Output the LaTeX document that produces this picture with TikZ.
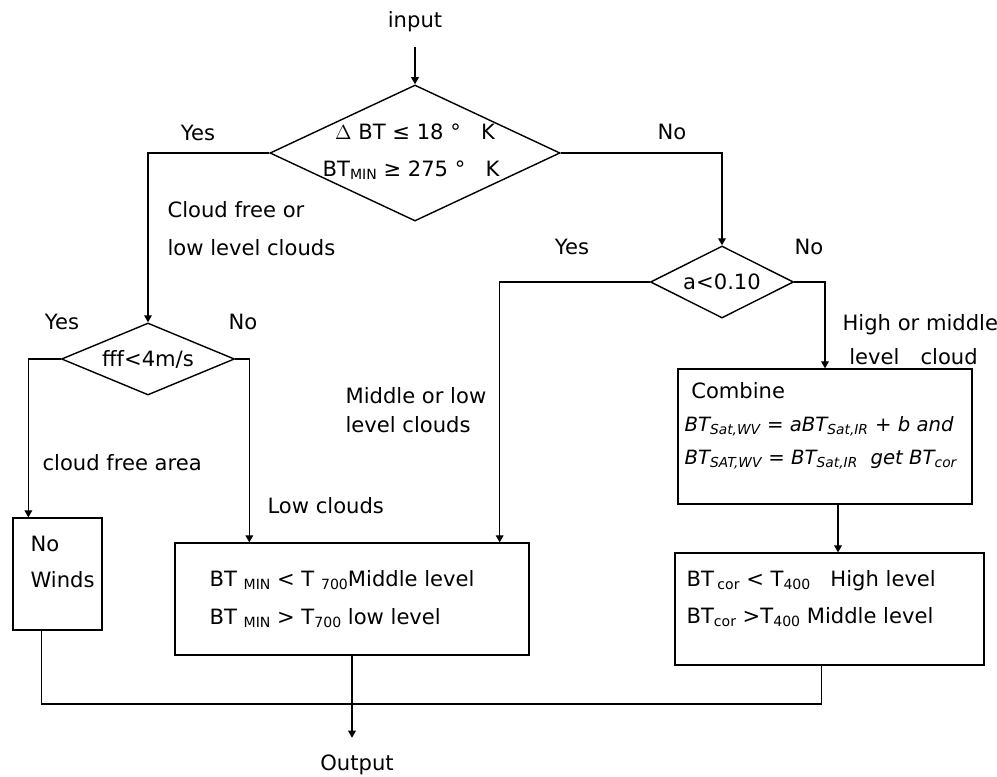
\documentclass[tikz,border=0pt]{standalone}
\usepackage{fontspec}
\setmainfont{DejaVu Sans}
\usetikzlibrary{arrows.meta,shapes.geometric,positioning,calc}

\tikzset{
  decision/.style={draw,diamond,inner sep=0pt,line width=1pt},
  block/.style={draw,rectangle,inner sep=0pt,line width=0.9pt},
  txt/.style={inner sep=0pt,anchor=west,align=left},
  arr/.style={-{Triangle[length=5pt,width=5.5pt]}},
}
\newcommand{\lo}[1]{\raisebox{-2pt}{\fontsize{10}{10}\selectfont #1}}
\newcommand{\sub}[1]{\textsubscript{#1}}

\begin{document}
\begin{tikzpicture}[x=0.025cm,y=-0.025cm,line width=0.8pt,
  font=\fontsize{15}{18}\selectfont]
  \useasboundingbox (0,0) rectangle (997,776);

  % decisions
  \node (input) at (415,22) {input};
  \node[decision,minimum width=7.25cm,minimum height=3.4cm] (bt) at (415,153) {};
  \node (bt1) at (415,132) {$\Delta$ BT ≤ 18 °~~ K};
  \node (bt2) at (411,170) {BT\lo{MIN} ≥ 275 °~~ K};
  \node[decision,aspect=2.4,minimum width=4.325cm,minimum height=1.8cm] (wind) at (148,359) {fff<4m/s};
  \node[decision,aspect=2,minimum width=3.575cm,minimum height=1.8cm] (atest) at (722,282) {a<0.10};

  % boxes
  \node[block,minimum width=2.225cm,minimum height=2.8cm] (calm) at (57.5,574) {};
  \node[block,minimum width=8.85cm,minimum height=2.8cm] (mid) at (352,599) {};
  \node[block,minimum width=7.35cm,minimum height=3.375cm] (combine) at (825,436.5) {};
  \node[block,minimum width=7.725cm,minimum height=2.8cm] (high) at (829.5,609) {};

  \node[txt,font=\fontsize{15}{25.5}\selectfont] (calmtxt) at (30,562) {No\\Winds};
  \node[txt,font=\fontsize{15}{27}\selectfont] (midtxt) at (209,599)
    {BT \lo{MIN} < T \lo{700}Middle level\\BT \lo{MIN} > T\lo{700} low level};
  \node[txt,font=\fontsize{15}{23.5}\selectfont] (combtxt) at (684,426)
    {~Combine\\
     {\fontsize{14}{23.5}\selectfont\itshape BT\sub{Sat,WV} = aBT\sub{Sat,IR} + b and}\\
     {\fontsize{14}{23.5}\selectfont\itshape BT\sub{SAT,WV} = BT\sub{Sat,IR}~~get~BT\sub{cor}}};
  \node[txt,font=\fontsize{15}{26}\selectfont] (hightxt) at (686,598.5)
    {BT\,\lo{cor} < T\lo{400}~~ High level\\BT\lo{cor} >T\lo{400} Middle level};
  \node (output) at (357,765) {Output};

  % branch labels
  \node (yes1) at (198,133) {Yes};
  \node (no1) at (672,132) {No};
  \node (yes2) at (62,322) {Yes};
  \node (no2) at (243,322) {No};
  \node (yes3) at (572,247) {Yes};
  \node (no3) at (809,247) {No};
  \node[txt,font=\fontsize{15}{27}\selectfont] (lowlab) at (167,229) {Cloud free or\\low level clouds};
  \node[txt,font=\fontsize{15}{21}\selectfont] (midlab) at (345,410) {Middle or low\\level clouds};
  \node[txt,font=\fontsize{15}{24}\selectfont] (highlab) at (842,340) {High or middle\\\ level\quad cloud};
  \node[txt] (freelab) at (42,463) {cloud free area};
  \node[txt] (lowcl) at (267,506) {Low clouds};

  % connectors
  \draw[arr,shorten <=0.25cm] (input.south) -- (bt.north);
  \draw[arr] (bt.west) -| (wind.north);
  \draw[arr] (bt.east) -| (atest.north);
  \draw[arr] (wind.west) -| ($(calm.north west)+(16,0)$);
  \draw[arr] (wind.east) -| ($(mid.north west)+(75,0)$);
  \draw[arr] (atest.west) -| ($(mid.north east)+(-30,0)$);
  \draw[arr] (atest.east) -| (combine.north);
  \coordinate (cb) at ($(combine.south)+(13,0)$);
  \draw[arr] (cb) -- (cb |- high.north);
  \coordinate (join) at (352,704);
  \draw ($(calm.south west)+(29,0)$) |- (join) -| ($(high.south west)+(147,0)$);
  \draw[arr,shorten >=0.3cm] (mid.south) -- (mid.south |- output.north);
\end{tikzpicture}
\end{document}
